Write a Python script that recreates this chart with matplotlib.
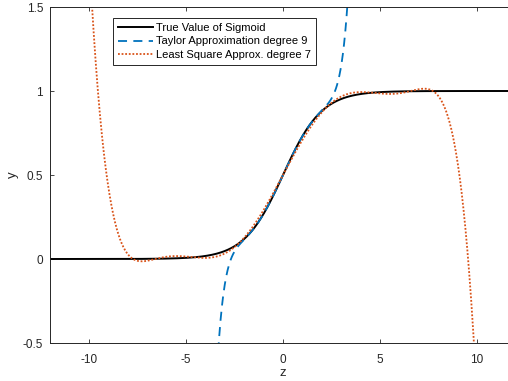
import numpy as np
import matplotlib
matplotlib.use("Agg")
import matplotlib.pyplot as plt

plt.rcParams['font.family'] = ['Liberation Sans', 'DejaVu Sans']
plt.rcParams['axes.unicode_minus'] = False

# Taylor series of the sigmoid around 0, coefficients of z^0 .. z^9
taylor_coef = [1/2, 1/4, 0, -1/48, 0, 1/480, 0, -17/80640, 0, 31/1451520]
# least squares degree 7 fit (highest power first)
lsq_coef = [-1.1816e-06, 0.0, 1.645979e-04, 0.0, -8.1617763e-03, 0.0, 0.2167034908, 0.5]

labels = ['True Value of Sigmoid', 'Taylor Approximation degree 9', 'Least Square Approx. degree 7']
xticks = [-10, -5, 0, 5, 10]
yticks = [-0.5, 0, 0.5, 1, 1.5]

z = np.linspace(-12, 12, 2001)
sig = 1 / (1 + np.exp(-z))
taylor = np.polynomial.polynomial.polyval(z, taylor_coef)
lsq = np.polyval(lsq_coef, z)

fig = plt.figure(figsize=(5.08, 3.81), dpi=100)
ax = fig.add_axes([50/508, 38/381, 466/508, 336/381])

ax.plot(z, sig, color='black', lw=1.4, label=labels[0])
ax.plot(z, taylor, color='#0072BD', lw=1.3, ls=(0, (5, 3.5)), label=labels[1])
ax.plot(z, lsq, color='#D95319', lw=1.3, ls=(0, (1, 1)), label=labels[2])

ax.set_xlim(-12, 12)
ax.set_ylim(-0.5, 1.5)
ax.set_xticks(xticks)
ax.set_yticks(yticks)
ax.set_yticklabels(['-0.5', '0', '0.5', '1', '1.5'])
ax.tick_params(direction='in', length=3, width=0.6, colors='#262626', labelsize=8.5,
               top=True, right=True)
ax.tick_params(axis='x', pad=8)
ax.tick_params(axis='y', pad=5)
for s in ax.spines.values():
    s.set_color('#262626')
    s.set_linewidth(0.7)
ax.set_xlabel('z', fontsize=9.5, color='#262626', labelpad=1)
ax.set_ylabel('y', fontsize=9.5, color='#262626', labelpad=3)

leg = ax.legend(loc='upper left', bbox_to_anchor=(0.135, 0.967), borderaxespad=0,
                fontsize=8, handlelength=3.2, handletextpad=0.2, labelspacing=0.3,
                borderpad=0.45, fancybox=False, framealpha=1)
leg.get_frame().set_edgecolor('#262626')
leg.get_frame().set_linewidth(0.7)

fig.savefig('out.png', dpi=100)
